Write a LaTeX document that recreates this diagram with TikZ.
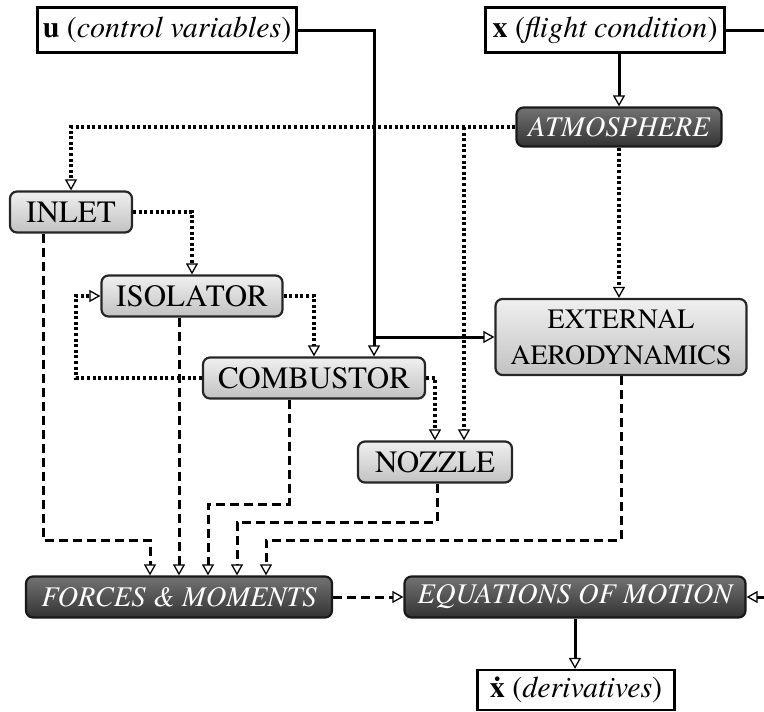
\documentclass[tikz,border=0pt]{standalone}
\usepackage{fontspec}
\setmainfont{texgyretermes}[Extension=.otf, UprightFont=*-regular, BoldFont=*-bold, ItalicFont=*-italic, BoldItalicFont=*-bolditalic]
\usepackage{tikz}
\usetikzlibrary{arrows.meta,positioning}

\begin{document}
\begin{tikzpicture}[
  x=1pt, y=-1pt,
  varbox/.style={draw, line width=2.2pt, fill=white, inner sep=0pt, minimum height=45pt, font=\rmfamily\fontsize{30}{32}\selectfont},
  litebox/.style={draw=black!85, line width=2.2pt, rounded corners=7pt, top color=gray!12, middle color=gray!28, bottom color=gray!48, inner sep=0pt, minimum height=41pt, font=\rmfamily\fontsize{31}{34}\selectfont},
  darkbox/.style={draw=black!90, line width=2.2pt, rounded corners=7pt, top color=black!55, middle color=black!78, bottom color=black!80, text=white, inner sep=0pt, minimum height=41pt, font=\rmfamily\fontsize{28.5}{31}\selectfont\itshape},
  opentip/.style={-{Triangle[open, length=11pt, width=12pt, line width'=1.3pt, fill=white]}},
  sline/.style={line width=3pt},
  sarr/.style={sline, opentip},
  dotarr/.style={line width=3.4pt, dash pattern=on 3pt off 2.6pt, opentip},
  dasharr/.style={line width=3pt, dash pattern=on 9pt off 5pt, opentip}
]
\useasboundingbox (0,0) rectangle (764,712);

% inputs and outputs
\node[varbox, minimum width=259pt] (ctrl) at (167,30) {\textbf{u} (\textit{control variables})};
\node[varbox, minimum width=239pt] (cond) at (605,30) {\textbf{x} (\textit{flight condition})};
\node[varbox, minimum width=197pt, minimum height=40pt] (deriv) at (576,690) {\textbf{\.x} (\textit{derivatives})};

% models
\node[darkbox, minimum width=205pt, minimum height=39pt] (atmo) at (619,127) {ATMOSPHERE};
\node[litebox, minimum width=122pt] (inlet) at (71,212) {INLET};
\node[litebox, minimum width=181pt] (isolator) at (192,296) {ISOLATOR};
\node[litebox, minimum width=222pt] (combustor) at (314,378) {COMBUSTOR};
\node[litebox, minimum width=154pt] (nozzle) at (435,462) {NOZZLE};
\node[litebox, minimum width=251pt, minimum height=76pt, align=center, font=\rmfamily\fontsize{28}{36}\selectfont] (extaero) at (621,337) {EXTERNAL\\AERODYNAMICS};
\node[darkbox, minimum width=306pt] (forces) at (179,597) {FORCES \& MOMENTS};
\node[darkbox, minimum width=341pt] (eom) at (575,597) {EQUATIONS OF MOTION};

% solid links
\coordinate (uj) at (374,337);
\coordinate (xout) at (764,30);
\coordinate (xin) at (764,597);
\draw[sline] (ctrl.east) -| (uj);
\draw[sarr] (uj) -- (uj |- combustor.north);
\draw[sarr] (uj) -- (uj -| extaero.west);
\draw[sarr] (atmo.north |- cond.south) -- (atmo.north);
\draw[sline] (cond.east) -- (xout);
\draw[sarr] (xin) -- (eom.east);
\draw[sarr] (eom.south) -- (eom.south |- deriv.north);

% dotted links
\coordinate (aj) at (464,127);
\draw[dotarr] (atmo.west) -| (inlet.north);
\draw[dotarr] (aj) -- (aj |- nozzle.north);
\draw[dotarr] (atmo.south) -- (atmo.south |- extaero.north);
\draw[dotarr] (inlet.east) -| (isolator.north);
\draw[dotarr] (isolator.east) -| (combustor.north);
\draw[dotarr] (combustor.west) -- ++(-126,0) |- (isolator.west);
\draw[dotarr] (combustor.east) -| (nozzle.north);

% dashed links
\draw[dasharr] ([xshift=-28]inlet.south) |- (150,540) -- ([xshift=-29]forces.north);
\draw[dasharr] ([xshift=-13]isolator.south) -- (forces.north);
\draw[dasharr] ([xshift=-25]combustor.south) |- (208,504) -- ([xshift=29]forces.north);
\draw[dasharr] ([xshift=2]nozzle.south) |- (237,522) -- ([xshift=58]forces.north);
\draw[dasharr] (extaero.south) |- (266,540) -- ([xshift=87]forces.north);
\draw[dasharr] (forces.east) -- (eom.west);
\end{tikzpicture}
\end{document}
